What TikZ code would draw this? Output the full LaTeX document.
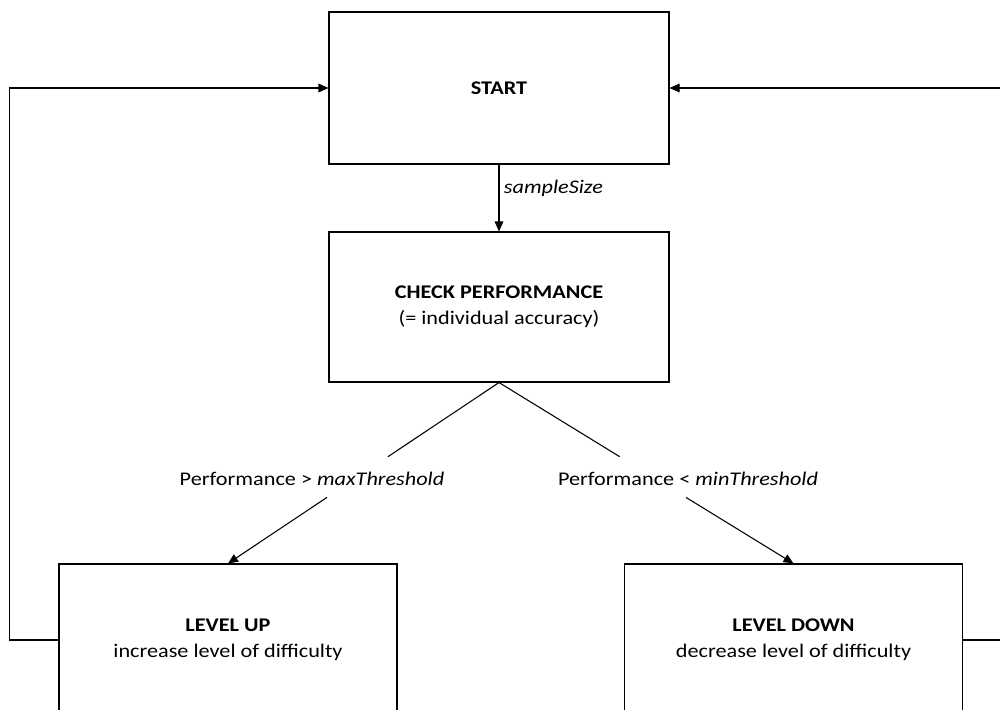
\documentclass[tikz,border=0pt]{standalone}
\usepackage{fontspec}
\setmainfont{Carlito}[FakeStretch=1.15]
\usetikzlibrary{calc,arrows.meta}

\begin{document}
\begin{tikzpicture}[x=0.75pt,y=-0.75pt,
    box/.style={draw, line width=0.8pt, minimum width=255pt, align=center,
      font=\fontsize{14.5}{19.5}\selectfont},
    cond/.style={font=\fontsize{14.5}{19.5}\selectfont},
    arr/.style={line width=0.8pt, -{Triangle[length=7.5pt,width=6.5pt]}},
    ln/.style={line width=0.8pt}]
  \useasboundingbox (0,0) rectangle (1000,710);
  \clip (0,0) rectangle (1000,710);

  % boxes
  \node[box, minimum height=114pt] (start) at (499,88) {\textbf{START}};
  \node[box, minimum height=112.5pt] (check) at (499,307)
    {\textbf{CHECK PERFORMANCE}\\(= individual accuracy)};
  \node[box, minimum width=253.5pt, minimum height=114pt] (lvlup) at (228,640)
    {\textbf{LEVEL UP}\\increase level of difficulty};
  \node[box, minimum width=254pt, minimum height=114pt] (lvldown) at (793.5,640)
    {\textbf{LEVEL DOWN}\\decrease level of difficulty};

  % conditions
  \node[cond] (maxcond) at (312,479) {Performance > \textit{maxThreshold}};
  \node[cond] (mincond) at (688,479) {Performance < \textit{minThreshold}};

  % connectors
  \draw[arr] (start) -- (check)
    node[pos=0.35, right, cond, font=\fontsize{14.5}{19.5}\selectfont\itshape] {sampleSize};
  \draw[ln] (check.south) -- ($(check.south)!0.41!(lvlup.north)$);
  \draw[arr] ($(check.south)!0.635!(lvlup.north)$) -- (lvlup.north);
  \draw[ln] (check.south) -- ($(check.south)!0.41!(lvldown.north)$);
  \draw[arr] ($(check.south)!0.635!(lvldown.north)$) -- (lvldown.north);

  % feedback loops
  \draw[arr] (lvlup.west) -- ++(-49,0) |- (start.west);
  \draw[arr] (lvldown.east) -- ++(47,0) |- (start.east);
\end{tikzpicture}
\end{document}
